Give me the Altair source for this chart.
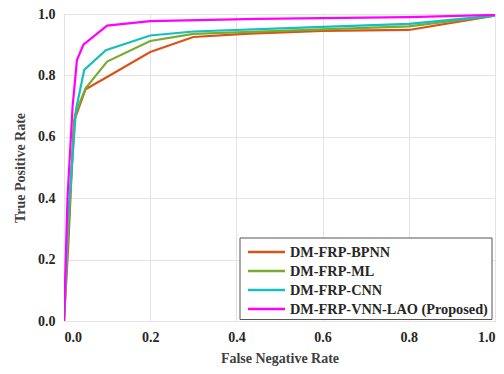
import altair as alt
import pandas as pd

series_names = ["DM-FRP-BPNN", "DM-FRP-ML", "DM-FRP-CNN", "DM-FRP-VNN-LAO (Proposed)"]
colors = ["#D95319", "#77AC30", "#17BEBB", "#FF00FF"]

bpnn_x = [0, 0.01, 0.023, 0.05, 0.1, 0.2, 0.3, 0.43, 0.6, 0.8, 1.0]
bpnn_y = [0, 0.25, 0.65, 0.755, 0.795, 0.876, 0.925, 0.936, 0.945, 0.948, 0.995]
ml_x = [0, 0.01, 0.025, 0.05, 0.1, 0.2, 0.3, 0.5, 0.8, 1.0]
ml_y = [0, 0.3, 0.67, 0.758, 0.845, 0.912, 0.935, 0.945, 0.96, 0.995]
cnn_x = [0, 0.01, 0.028, 0.047, 0.097, 0.2, 0.3, 0.6, 0.8, 1.0]
cnn_y = [0, 0.35, 0.69, 0.818, 0.882, 0.93, 0.943, 0.958, 0.968, 0.995]
vnn_x = [0, 0.008, 0.02, 0.03, 0.045, 0.1, 0.2, 0.45, 0.8, 1.0]
vnn_y = [0, 0.4, 0.7, 0.85, 0.9, 0.962, 0.977, 0.984, 0.99, 0.997]

rows = []
for name, xs, ys in zip(series_names, [bpnn_x, ml_x, cnn_x, vnn_x], [bpnn_y, ml_y, cnn_y, vnn_y]):
    for i, (xv, yv) in enumerate(zip(xs, ys)):
        rows.append({"series": name, "fnr": xv, "tpr": yv, "idx": i})
df = pd.DataFrame(rows)
legend_df = pd.DataFrame({"series": series_names})

FONT = "Liberation Serif"
TXT = "#262626"
ticks = [0, 0.2, 0.4, 0.6, 0.8, 1.0]

def ax(title, pad):
    return alt.Axis(title=title, values=ticks, format=".1f", titlePadding=pad,
                    labelFont=FONT, labelFontSize=14, labelFontWeight="bold", labelColor=TXT,
                    titleFont=FONT, titleFontSize=14, titleFontWeight="bold", titleColor="#404040",
                    grid=True, gridColor="#e3e3e3", gridWidth=1, domain=False, ticks=False,
                    labelPadding=9)

color_enc = alt.Color("series:N", scale=alt.Scale(domain=series_names, range=colors), legend=None)

lines = alt.Chart(df).mark_line(strokeWidth=2.2, clip=True).encode(
    x=alt.X("fnr:Q", scale=alt.Scale(domain=[0, 1], nice=False), axis=ax("False Negative Rate", 7)),
    y=alt.Y("tpr:Q", scale=alt.Scale(domain=[0, 1], nice=False), axis=ax("True Positive Rate", 10)),
    color=color_enc,
    order=alt.Order("idx:Q"),
)

# legend (drawn as marks)
leg_y = alt.Y("series:N", sort=series_names, axis=None,
              scale=alt.Scale(type="point", domain=series_names, range=[238, 295], padding=0))

box = alt.Chart(alt.Data(values=[{"k": 1}])).mark_rect(
    fill="white", stroke="#555555", strokeWidth=1
).encode(x=alt.value(176), x2=alt.value(428), y=alt.value(224), y2=alt.value(305.5))

leg_lines = alt.Chart(legend_df).mark_rule(strokeWidth=2.5).encode(
    x=alt.value(184), x2=alt.value(221), y=leg_y, color=color_enc
)

leg_text = alt.Chart(legend_df).mark_text(
    align="left", baseline="middle", font=FONT, fontSize=14.3, fontWeight="bold", color=TXT, dy=1
).encode(x=alt.value(226), y=leg_y, text="series:N")

chart = alt.layer(lines, box, leg_lines, leg_text).resolve_scale(
    y="independent"
).properties(
    width=431, height=307,
    autosize=alt.AutoSizeParams(type="none"),
    padding={"left": 64, "top": 14, "right": 9, "bottom": 53},
).configure_view(
    stroke="#262626", strokeWidth=1
).configure(background="white")

chart.save("out.html", embed_options={"renderer": "svg", "actions": False})
